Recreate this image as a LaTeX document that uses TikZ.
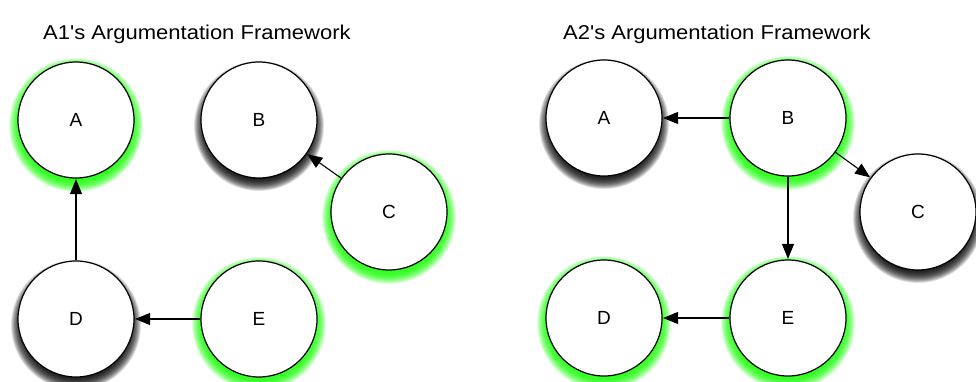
\documentclass[tikz,border=0pt]{standalone}
\usepackage{fontspec}
\setmainfont{Liberation Sans}
\newfontfamily\ttlfont[FakeStretch=1.1]{Liberation Sans}
\usetikzlibrary{arrows.meta}
\pgfdeclarelayer{background}
\pgfdeclarelayer{paper}
\pgfsetlayers{paper,background,main}
\tikzset{
  arg/.style={circle, draw=black, line width=1.2pt, fill=white, minimum size=116pt, inner sep=0pt, font=\fontsize{19}{21}\selectfont},
  att/.style={draw=black, line width=1.1pt, -{Triangle[length=15pt,width=12pt]}, shorten >=0.5pt},
  ttl/.style={anchor=base west, inner sep=0pt, font=\ttlfont\fontsize{20}{22}\selectfont},
  glowring/.style={fill=green!90!lime, opacity=0.085},
  shadring/.style={fill=black, opacity=0.09}
}
\begin{document}
\begin{tikzpicture}[x=1pt,y=-1pt]
\useasboundingbox (0,0) rectangle (976,382);
\begin{pgfonlayer}{paper}
\fill[white] (0,0) rectangle (976,382);
\end{pgfonlayer}
\node[ttl] (t1) at (43,40) {A1's Argumentation Framework};
\node[ttl] (t2) at (563,40) {A2's Argumentation Framework};
% left framework
\node[arg] (la) at (76,120) {A};
\node[arg] (lb) at (259,120) {B};
\node[arg] (lc) at (389,212) {C};
\node[arg] (ld) at (76,319) {D};
\node[arg] (le) at (259,319) {E};
% right framework
\node[arg] (ra) at (604,118) {A};
\node[arg] (rb) at (788,118) {B};
\node[arg] (rc) at (918,212) {C};
\node[arg] (rd) at (604,318) {D};
\node[arg] (re) at (788,318) {E};
\begin{pgfonlayer}{background}
\foreach \n in {la,lc,le,rb,rd,re}{
  \foreach \i in {1,...,20}{
    \path[glowring, shift={(\n.center)}] (0,5) circle ({56+\i*0.55});
  }
}
\foreach \n in {lb,ld,ra,rc}{
  \foreach \i in {1,...,20}{
    \path[shadring, shift={(\n.center)}] (0,6) circle ({53+\i*0.6});
  }
}
\end{pgfonlayer}
\draw[att] (ld) -- (la);
\draw[att] (lc) -- (lb);
\draw[att] (le) -- (ld);
\draw[att] (rb) -- (ra);
\draw[att] (rb) -- (rc);
\draw[att] (rb) -- (re);
\draw[att] (re) -- (rd);
\end{tikzpicture}
\end{document}
